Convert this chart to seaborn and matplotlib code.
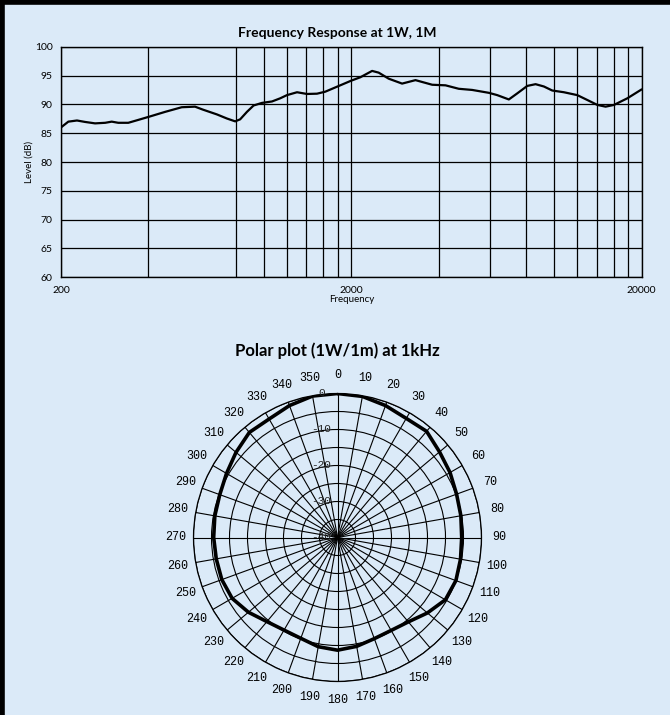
import numpy as np
import pandas as pd
import seaborn as sns
import matplotlib.pyplot as plt
from matplotlib.lines import Line2D
from matplotlib.ticker import NullFormatter

# ---------------- data ----------------
freq_hz = [200, 212, 227, 242, 262, 284, 299, 315, 341, 369, 405, 457, 521, 579,
           615, 689, 745, 796, 828, 874, 921, 984, 1066, 1138, 1200, 1300, 1407,
           1523, 1627, 1785, 1996, 2148, 2358, 2484, 2690, 2991, 3326, 3797, 4220,
           4688, 5214, 5950, 6361, 6973, 7453, 8072, 8620, 9206, 9840, 10792,
           12000, 13000, 14070, 15020, 16050, 17850, 20000]
level_db = [86.0, 87.0, 87.2, 86.95, 86.7, 86.8, 87.0, 86.8, 86.8, 87.3, 87.9,
            88.7, 89.5, 89.6, 89.1, 88.25, 87.55, 87.05, 87.4, 88.7, 89.8, 90.25,
            90.5, 91.05, 91.6, 92.1, 91.8, 91.85, 92.2, 93.06, 94.1, 94.7, 95.8,
            95.5, 94.45, 93.6, 94.2, 93.4, 93.3, 92.7, 92.5, 92.0, 91.6, 90.85,
            91.9, 93.2, 93.5, 93.1, 92.4, 92.1, 91.6, 90.75, 89.9, 89.6, 89.9,
            91.05, 92.6]
y_ticks = [60, 65, 70, 75, 80, 85, 90, 95, 100]
x_major = [200, 2000, 20000]
x_major_labels = ["200", "2000", "20000"]
x_grid = [400, 800, 1000, 1200, 1400, 1600, 1800,
          4000, 6000, 8000, 10000, 12000, 14000, 16000, 18000]

angles_deg = list(range(0, 360, 10))
polar_db = [0.0, -0.2, -1.0, -1.8, -1.5, -3.0, -3.9, -4.8, -5.2, -5.5, -5.3,
            -5.0, -5.4, -7.4, -9.4, -10.2, -10.1, -9.3, -8.7, -9.2, -10.2, -10.3,
            -9.5, -7.7, -6.2, -5.8, -5.8, -5.6, -5.4, -5.2, -4.4, -3.2, -1.9,
            -2.0, -1.0, -0.1]
ring_values = [-40, -35, -30, -25, -20, -15, -10, -5, 0]
ring_labels = [0, -10, -20, -30, -40]

BG = "#dbeaf8"

sns.set_theme(style="white")
plt.rcParams["font.family"] = ["Lato", "DejaVu Sans"]

fig = plt.figure(figsize=(6.7, 7.15), dpi=100, facecolor=BG)

# ---------------- frequency response ----------------
ax = fig.add_axes([61 / 670, 1 - 277.3 / 715, 580.7 / 670, 230.6 / 715])
ax.set_facecolor(BG)
df = pd.DataFrame({"Frequency": freq_hz, "Level": level_db})
sns.lineplot(data=df, x="Frequency", y="Level", ax=ax, color="black",
             linewidth=1.6, sort=False, estimator=None, zorder=5)
ax.set_xscale("log")
ax.set_xlim(200, 20000)
ax.set_ylim(60, 100)
ax.set_xticks(x_major)
ax.set_xticklabels(x_major_labels)
ax.set_xticks(x_grid, minor=True)
ax.xaxis.set_minor_formatter(NullFormatter())
ax.set_yticks(y_ticks)
ax.set_yticklabels([str(v) for v in y_ticks])
ax.grid(True, which="both", axis="x", color="black", linewidth=0.9)
ax.grid(True, which="major", axis="y", color="black", linewidth=0.9)
ax.tick_params(axis="both", which="major", direction="out", length=4,
               width=0.9, color="black", labelsize=7.5, pad=2, labelcolor="black")
ax.tick_params(axis="x", which="minor", length=0)
for s in ax.spines.values():
    s.set_color("black")
    s.set_linewidth(1.0)
ax.set_xlabel("Frequency", fontsize=7, color="black")
ax.set_ylabel("Level (dB)", fontsize=7, color="black")
ax.xaxis.set_label_coords(0.5, -0.075)
ax.yaxis.set_label_coords(-0.047, 0.5)
fig.text(337 / 670, 1 - 33 / 715, "Frequency Response at 1W, 1M",
         ha="center", va="center", fontsize=10, fontweight="bold", color="black")

# ---------------- polar plot ----------------
R = 144
cx, cy = 337.5, 537.5
axp = fig.add_axes([(cx - R) / 670, 1 - (cy + R) / 715, 2 * R / 670, 2 * R / 715],
                   projection="polar")
axp.set_facecolor(BG)
axp.set_theta_zero_location("N")
axp.set_theta_direction(-1)
axp.set_rlim(-40, 0)
axp.set_thetagrids(angles_deg, labels=[str(a) for a in angles_deg],
                   fontsize=8.5, family="Liberation Mono", color="black")
axp.set_rgrids(ring_values, labels=[""] * len(ring_values))
axp.grid(True, color="black", linewidth=0.8)
axp.tick_params(axis="x", pad=0)
axp.spines["polar"].set_color("black")
axp.spines["polar"].set_linewidth(0.9)

theta = np.deg2rad(angles_deg + [angles_deg[0] + 360])
rvals = polar_db + [polar_db[0]]
pdf = pd.DataFrame({"theta": theta, "r": rvals})
sns.lineplot(data=pdf, x="theta", y="r", ax=axp, color="black", linewidth=2.6,
             sort=False, estimator=None, zorder=5)
axp.set_xlabel("")
axp.set_ylabel("")
axp.set_rlim(-40, 0)

for v in ring_labels:
    axp.annotate(str(v), xy=(0, v), xytext=(-16, 0), textcoords="offset pixels",
                 ha="center", va="center", fontsize=8, family="Liberation Mono",
                 color="#222222", zorder=6)

fig.text(cx / 670, 1 - 350.7 / 715, "Polar plot (1W/1m) at 1kHz",
         ha="center", va="center", fontsize=12, fontweight="bold", color="black")

# frame edges (left and top)
fig.add_artist(Line2D([0, 0], [0, 1], transform=fig.transFigure, color="black", linewidth=6.2))
fig.add_artist(Line2D([0, 1], [1, 1], transform=fig.transFigure, color="black", linewidth=6.2))

fig.savefig("out.png", dpi=100, facecolor=BG)
